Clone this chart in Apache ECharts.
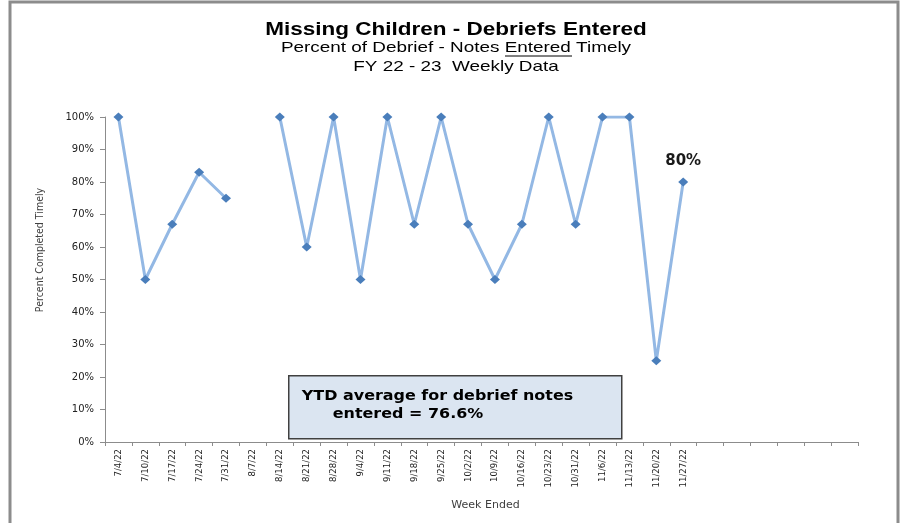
<!DOCTYPE html>
<html lang="en">
<head>
    <meta charset="UTF-8">
    <title>Missing Children - Debriefs Entered</title>
    <script src="https://cdn.jsdelivr.net/npm/echarts@6/dist/echarts.min.js"></script>
    <style>
        html, body { margin: 0; padding: 0; background: #fff; }
        #chart1 { width: 901px; height: 523px; }
    </style>
</head>
<body>
<div id="chart1"></div>
<script type="text/javascript">
    // week ended labels (trailing blanks are empty weeks on the axis)
    var weeks = ['7/4/22', '7/10/22', '7/17/22', '7/24/22', '7/31/22', '8/7/22', '8/14/22',
        '8/21/22', '8/28/22', '9/4/22', '9/11/22', '9/18/22', '9/25/22', '10/2/22',
        '10/9/22', '10/16/22', '10/23/22', '10/31/22', '11/6/22', '11/13/22', '11/20/22',
        '11/27/22', '', '', '', '', '', ''];
    // percent completed timely
    var pctTimely = [100, 50, 67, 83, 75, null, 100, 60, 100, 50, 100, 67, 100, 67,
        50, 67, 100, 67, 100, 100, 25, 80, null, null, null, null, null, null];
    var yTicks = [0, 10, 20, 30, 40, 50, 60, 70, 80, 90, 100];
    var lastIdx = 21;

    var seriesData = pctTimely.map(function (v, i) {
        if (i === lastIdx) {
            return {
                value: v,
                label: {
                    show: true, position: 'top', distance: 9,
                    formatter: '{c}%', color: '#1a1a1a',
                    fontFamily: 'DejaVu Sans', fontWeight: 'bold', fontSize: 15
                }
            };
        }
        return v;
    });

    var myChart1 = echarts.init(document.getElementById('chart1'));
    myChart1.setOption({
        animation: false,
        backgroundColor: '#fff',
        grid: { left: 105, right: 43, top: 117, bottom: 81, containLabel: false },
        xAxis: {
            type: 'category',
            data: weeks,
            boundaryGap: true,
            name: 'Week Ended',
            nameLocation: 'middle',
            nameGap: 58,
            nameTextStyle: { fontFamily: 'DejaVu Sans', fontSize: 11, color: '#404040', padding: [0, 0, 0, 8] },
            axisLine: { lineStyle: { color: '#8c8c8c', width: 1 } },
            axisTick: { show: true, alignWithLabel: false, length: 4, lineStyle: { color: '#8c8c8c' } },
            axisLabel: {
                rotate: 90, interval: 0, margin: 7,
                fontFamily: 'DejaVu Sans Condensed', fontSize: 9.5, color: '#222'
            },
            splitLine: { show: false }
        },
        yAxis: {
            type: 'value',
            min: yTicks[0], max: yTicks[yTicks.length - 1], interval: 10,
            axisLine: { show: true, lineStyle: { color: '#8c8c8c', width: 1 } },
            axisTick: { show: true, inside: false, length: 5, lineStyle: { color: '#8c8c8c' } },
            axisLabel: {
                margin: 11, formatter: '{value}%',
                fontFamily: 'DejaVu Sans', fontSize: 10, color: '#222'
            },
            splitLine: { show: false }
        },
        series: [{
            name: 'Percent Completed Timely',
            type: 'line',
            data: seriesData,
            connectNulls: false,
            symbol: 'diamond',
            symbolSize: [10, 9],
            lineStyle: { color: '#93b8e4', width: 3 },
            itemStyle: { color: '#4a7ebb' },
            z: 3
        }],
        graphic: [
            // outer chart frame
            { type: 'polyline', shape: { points: [[10, 523], [10, 2], [898, 2], [898, 523]] },
              style: { stroke: '#8c8c8c', lineWidth: 3, fill: null }, z: 10 },
            // titles (stretched wide like the source)
            { type: 'text', x: 456, y: 30, scaleX: 1.25,
              style: { text: 'Missing Children - Debriefs Entered', fill: '#000',
                  font: 'bold 18px "Liberation Sans"', align: 'center', verticalAlign: 'middle' } },
            { type: 'text', x: 456, y: 48, scaleX: 1.26,
              style: { text: 'Percent of Debrief - Notes Entered Timely', fill: '#000',
                  font: '15px "Liberation Sans"', align: 'center', verticalAlign: 'middle' } },
            { type: 'text', x: 456, y: 67, scaleX: 1.26,
              style: { text: 'FY 22 - 23  Weekly Data', fill: '#000',
                  font: '15px "Liberation Sans"', align: 'center', verticalAlign: 'middle' } },
            // underline under "Entered"
            { type: 'line', shape: { x1: 505, y1: 56, x2: 572, y2: 56 },
              style: { stroke: '#000', lineWidth: 1 }, z: 10 },
            // y axis title
            { type: 'text', x: 40, y: 250, rotation: Math.PI / 2,
              style: { text: 'Percent Completed Timely', fill: '#404040',
                  font: '10.5px "DejaVu Sans Condensed"', align: 'center', verticalAlign: 'middle' } },
            // YTD average box
            { type: 'group', left: 288, top: 375, z: 20, children: [
                { type: 'rect', shape: { x: 0, y: 0, width: 333, height: 63 },
                  style: { fill: '#dbe5f1', stroke: '#404040', lineWidth: 1.5 } },
                { type: 'text', x: 13, y: 13, scaleX: 1.1,
                  style: { text: 'YTD average for debrief notes', fill: '#000',
                      font: 'bold 14.5px "DejaVu Sans"' } },
                { type: 'text', x: 44, y: 31, scaleX: 1.1,
                  style: { text: 'entered = 76.6%', fill: '#000',
                      font: 'bold 14.5px "DejaVu Sans"' } }
            ] }
        ]
    });
</script>
</body>
</html>
